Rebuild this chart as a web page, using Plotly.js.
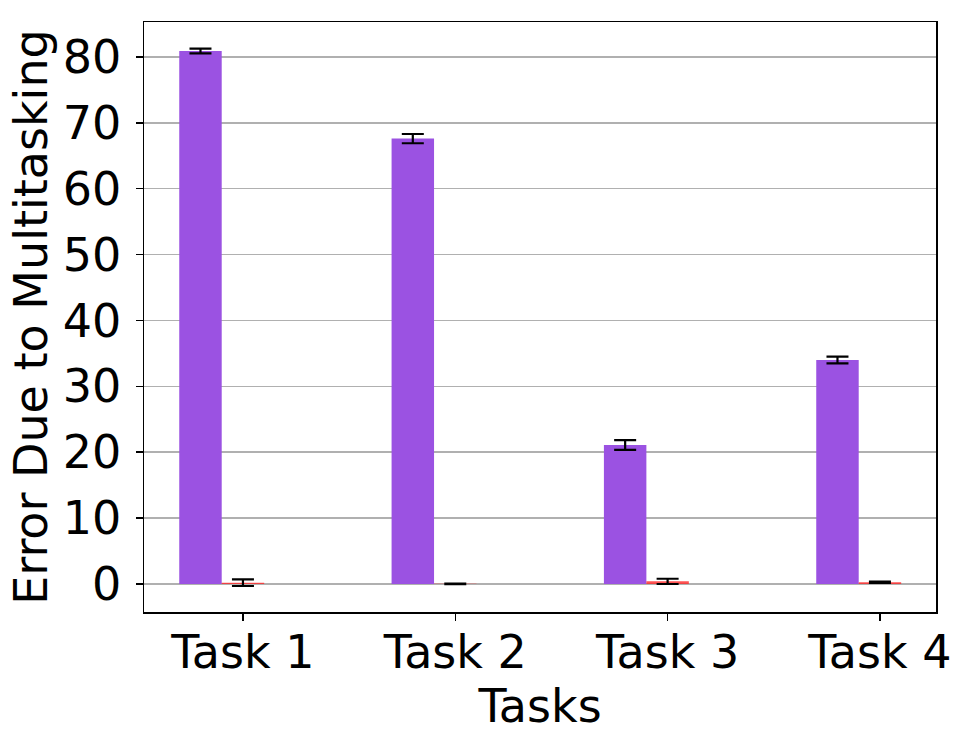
<!DOCTYPE html>
<html>
<head>
<meta charset="utf-8">
<script src="https://cdn.plot.ly/plotly-3.0.1.min.js"></script>
<style>
html,body{margin:0;padding:0;background:#fff;}
#chart{width:970px;height:742px;}
</style>
</head>
<body>
<div id="chart"></div>
<script>
// Data
const categories = ["Task 1", "Task 2", "Task 3", "Task 4"];
const purpleValues = [80.9, 67.6, 21.1, 34.0];
const purpleErrors = [0.35, 0.7, 0.75, 0.5];
const redValues = [0.2, 0.02, 0.4, 0.25];
const redErrors = [0.5, 0.05, 0.4, 0.1];
const yTicks = [0, 10, 20, 30, 40, 50, 60, 70, 80];

const idx = categories.map((c, i) => i);

const font = "DejaVu Sans, sans-serif";
const fs = 46;

const traces = [
  {
    type: "bar",
    x: idx.map(i => i - 0.2),
    y: purpleValues,
    width: 0.2,
    marker: {color: "#9b52e2", line: {width: 0}},
    error_y: {type: "data", array: purpleErrors, visible: true, color: "#000", thickness: 2.2, width: 11},
    hoverinfo: "y",
    showlegend: false
  },
  {
    type: "bar",
    x: idx,
    y: redValues,
    width: 0.2,
    marker: {color: "rgba(255,40,40,0.8)", line: {width: 0}},
    error_y: {type: "data", array: redErrors, visible: true, color: "#000", thickness: 2.2, width: 11},
    hoverinfo: "y",
    showlegend: false
  }
];

const layout = {
  width: 970,
  height: 742,
  margin: {l: 144, r: 34, t: 22, b: 130, pad: 0},
  paper_bgcolor: "#fff",
  plot_bgcolor: "#fff",
  font: {family: font, size: fs, color: "#000"},
  barmode: "overlay",
  xaxis: {
    range: [-0.466, 3.264],
    tickvals: idx,
    ticktext: categories,
    ticks: "outside",
    ticklen: 7,
    tickwidth: 1.5,
    tickcolor: "#000",
    showgrid: false,
    zeroline: false,
    showline: true,
    linecolor: "#000",
    linewidth: 1.5,
    mirror: true,
    ticklabelstandoff: -8,
    tickfont: {family: font, size: fs, color: "#000"},
    title: {text: "Tasks", font: {family: font, size: fs, color: "#000"}, standoff: 0},
    automargin: false
  },
  yaxis: {
    range: [-4.25, 85.3],
    tickvals: yTicks,
    ticktext: yTicks.map(String),
    ticks: "outside",
    ticklen: 7,
    tickwidth: 1.5,
    tickcolor: "#000",
    showgrid: true,
    gridcolor: "#b0b0b0",
    gridwidth: 1.5,
    zeroline: false,
    showline: true,
    linecolor: "#000",
    linewidth: 1.5,
    mirror: true,
    ticklabelstandoff: 5,
    tickfont: {family: font, size: fs, color: "#000"},
    title: {text: "Error Due to Multitasking", font: {family: font, size: fs, color: "#000"}, standoff: 0},
    automargin: false
  }
};

Plotly.newPlot("chart", traces, layout, {displayModeBar: false, staticPlot: true});
</script>
</body>
</html>
